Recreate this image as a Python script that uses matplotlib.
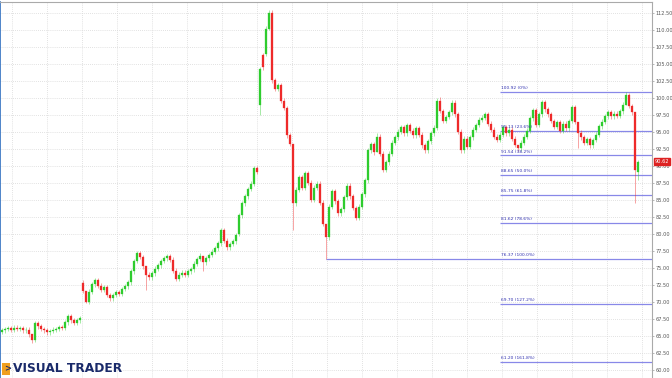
import numpy
import matplotlib
matplotlib.use("Agg")
import matplotlib.pyplot as plt
from matplotlib.patches import Rectangle

# closing prices, one per candle
closes = [
    65.8, 66.0, 66.1, 65.9, 66.2, 66.0, 66.1, 65.8, 65.9, 65.2,
    64.4, 66.9, 66.4, 66.0, 65.8, 65.5, 65.7, 65.9, 66.0, 66.3,
    66.2, 67.0, 67.9, 67.3, 66.9, 67.3, 67.6, 71.6, 70.0, 71.5,
    72.6, 73.2, 72.4, 71.8, 72.2, 71.0, 70.5, 71.0, 71.4, 71.2,
    71.9, 72.3, 72.9, 74.5, 76.0, 77.2, 76.6, 75.2, 74.0, 73.6,
    74.2, 74.9, 75.4, 76.0, 76.4, 76.7, 76.2, 74.6, 73.4, 74.0,
    74.3, 74.0, 74.5, 74.8, 75.6, 76.3, 76.8, 75.8, 76.4, 76.9,
    77.4, 77.9, 78.6, 80.5, 79.0, 78.0, 78.5, 78.9, 79.8, 82.7,
    84.5, 85.5, 86.6, 87.4, 89.7, 89.1, 104.2, 104.5, 110.2, 112.5,
    102.6, 101.3, 101.9, 99.6, 98.5, 94.5, 93.2, 84.5, 86.5, 88.3,
    86.8, 88.9, 87.5, 85.0, 86.8, 87.4, 84.6, 81.5, 79.5, 84.0,
    86.3, 84.8, 83.0, 83.6, 85.4, 87.1, 85.5, 83.8, 82.4, 84.0,
    85.8, 87.9, 92.3, 93.2, 92.0, 94.3, 91.8, 89.4, 90.5, 91.8,
    93.4, 94.2, 95.0, 95.7, 94.8, 96.0, 95.2, 94.5, 95.5, 94.6,
    93.0, 92.3, 93.6, 94.8, 95.6, 99.6, 98.0, 96.6, 97.2, 97.9,
    99.3, 97.6, 95.0, 92.3, 94.0, 92.8, 94.2, 95.3, 96.0, 96.8,
    97.1, 97.6, 96.2, 95.3, 94.3, 93.8, 94.6, 95.7, 94.8, 95.3,
    94.0, 93.1, 92.6, 93.4, 94.3, 95.2, 97.0, 98.2, 96.0, 97.6,
    99.4, 98.3, 97.6, 96.6, 95.7, 96.4, 95.2, 96.2, 95.5, 96.6,
    98.6, 96.5, 94.9, 94.2, 93.4, 93.9, 93.0, 93.8, 94.6, 95.8,
    96.5, 97.3, 97.9, 97.3, 97.7, 97.4, 98.0, 99.0, 100.4, 98.8,
    97.9, 89.4, 90.62,
]
# opens where the market gapped (otherwise open = previous close)
gap_opens = {0: 65.6, 27: 72.8, 79: 80.0, 86: 98.9, 87: 106.3, 88: 106.5, 212: 89.1}
# notable wick extremes: index -> (high, low)
wicks = {
    10: (65.2, 64.0), 28: (71.6, 69.8), 48: (75.2, 71.7), 67: (76.8, 74.6),
    86: (104.5, 97.5), 89: (112.9, 110.0), 97: (93.2, 80.5), 108: (81.5, 76.37),
    125: (94.8, 92.0), 146: (100.1, 97.8), 172: (93.1, 92.2), 192: (96.5, 92.6),
    208: (100.92, 99.0), 211: (97.9, 84.5), 212: (90.9, 87.9),
}

fib_levels = [100.92, 95.13, 91.54, 88.65, 85.75, 81.62, 76.37, 69.70, 61.20]
fib_pcts = ["0%", "23.6%", "38.2%", "50.0%", "61.8%", "78.6%", "100.0%", "127.2%", "161.8%"]
fib_start = [166, 166, 166, 166, 166, 166, 108, 166, 166]

y_ticks = numpy.arange(60.0, 112.6, 2.5)
last_price = 90.62

n = len(closes)
opens = []
for i in range(n):
    if i in gap_opens:
        opens.append(gap_opens[i])
    else:
        opens.append(closes[i - 1])

fig = plt.figure(figsize=(6.72, 3.78), dpi=100)
ax = fig.add_axes([0.0, 0.0, 652 / 672, 1 - 2 / 378])
ax.set_facecolor("white")

green = "#2ecc2e"
red = "#ee2a2a"
for i in range(n):
    o = opens[i]
    c = closes[i]
    col = green if c >= o else red
    hi, lo = wicks.get(i, (max(o, c) + 0.35, min(o, c) - 0.35))
    ax.vlines(i, lo, hi, color=col, linewidth=0.6, alpha=0.5, zorder=2)
    body = max(abs(c - o), 0.12)
    ax.add_patch(Rectangle((i - 0.28, min(o, c)), 0.56, body, facecolor=col,
                           edgecolor=col, linewidth=0.2, zorder=3))

# fibonacci retracement lines
for lvl, pct, st in zip(fib_levels, fib_pcts, fib_start):
    ax.hlines(lvl, st, 230, color="#8888e8", linewidth=0.9, zorder=1)
    ax.text(166.3, lvl + 0.25, "%.2f (%s)" % (lvl, pct), fontsize=3.2,
            color="#3030b0", va="bottom", ha="left", zorder=4)

ax.set_xlim(-0.67, 216.7)
ax.set_ylim(58.8, 114.1)

ax.yaxis.tick_right()
ax.set_yticks(y_ticks)
ax.set_yticklabels(["%.2f" % v for v in y_ticks], fontsize=3.6, color="#555555")
ax.tick_params(axis="y", length=1.5, width=0.5, color="#999999", pad=0.8)
ax.set_xticks(numpy.arange(3.33, 216, 11.67))
ax.set_xticklabels([])
ax.tick_params(axis="x", length=0)
ax.grid(True, color="#d8d8d8", linestyle=(0, (1, 1.5)), linewidth=0.6)
ax.set_axisbelow(True)

for side in ["top", "right"]:
    ax.spines[side].set_color("#aaaaaa")
    ax.spines[side].set_linewidth(0.8)
ax.spines["bottom"].set_visible(False)
ax.spines["left"].set_color("#3070c0")
ax.spines["left"].set_linewidth(1.2)

# last price box
ax.text(1.004, last_price, "%.2f" % last_price, transform=ax.get_yaxis_transform(),
        fontsize=3.6, color="white", va="center", ha="left",
        bbox=dict(boxstyle="square,pad=0.2", facecolor="#dd2222", edgecolor="#dd2222"),
        clip_on=False, zorder=6)

# logo
fig.patches.append(Rectangle((2 / 672, 3 / 378), 8 / 672, 12 / 378, transform=fig.transFigure,
                             facecolor="#f0a020", edgecolor="none"))
fig.text(4 / 672, 9 / 378, ">", fontsize=6, color="#1a2a6a", fontweight="bold",
         va="center", ha="left")
fig.text(13 / 672, 9 / 378, "VISUAL TRADER", fontsize=8.8, color="#1a2a6a",
         fontweight="bold", va="center", ha="left", family="DejaVu Sans")

plt.savefig("out.png", dpi=100)
